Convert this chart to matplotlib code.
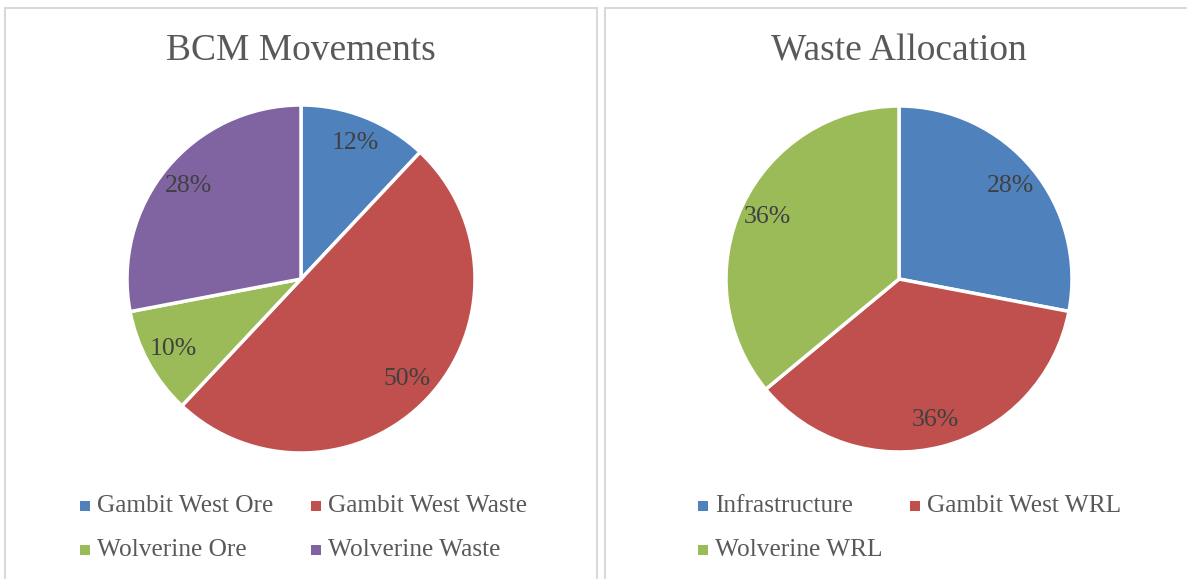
import matplotlib.pyplot as plt
from matplotlib.patches import Rectangle

# data
bcm_labels = ["Gambit West Ore", "Gambit West Waste", "Wolverine Ore", "Wolverine Waste"]
bcm_values = [12, 50, 10, 28]
waste_labels = ["Infrastructure", "Gambit West WRL", "Wolverine WRL"]
waste_values = [28, 36, 36]

blue, red, green, purple = "#4F81BD", "#C0504D", "#9BBB59", "#8064A2"
bcm_colors = [blue, red, green, purple]
waste_colors = [blue, red, green]

W, H = 1187, 579
plt.rcParams["font.family"] = ["Liberation Serif", "DejaVu Serif"]
fig = plt.figure(figsize=(W / 100, H / 100), dpi=100)

# panel borders
border = "#D9D9D9"
fig.add_artist(Rectangle((5 / W, -0.05), 592 / W, 1.05 - 8 / H, transform=fig.transFigure,
                         fill=False, edgecolor=border, linewidth=1.5))
fig.add_artist(Rectangle((605 / W, -0.05), 600 / W, 1.05 - 8 / H, transform=fig.transFigure,
                         fill=False, edgecolor=border, linewidth=1.5))


def draw_pie(cx, cy, r, values, colors, title, labels, legend_x, col2_x):
    ax = fig.add_axes([(cx - r) / W, 1 - (cy + r) / H, 2 * r / W, 2 * r / H])
    ax.pie(values, colors=colors, startangle=90, counterclock=False,
           autopct="%d%%", pctdistance=0.84,
           wedgeprops=dict(edgecolor="white", linewidth=2.5),
           textprops=dict(color="#404040", fontsize=18.5))
    ax.set_xlim(-1, 1)
    ax.set_ylim(-1, 1)
    ax.set_aspect("equal")
    ax.axis("off")
    fig.text(cx / W, 1 - 51 / H, title, ha="center", va="center",
             fontsize=27, color="#595959")
    # legend, two columns
    for i, (lab, col) in enumerate(zip(labels, colors)):
        x = legend_x if i % 2 == 0 else col2_x
        y = 506 if i < 2 else 550
        fig.add_artist(Rectangle(((x - 5) / W, 1 - (y + 5) / H), 10 / W, 10 / H,
                                 transform=fig.transFigure, facecolor=col, edgecolor="none"))
        fig.text((x + 12) / W, 1 - y / H, lab, ha="left", va="center",
                 fontsize=18.3, color="#595959")


draw_pie(301, 279, 174, bcm_values, bcm_colors, "BCM Movements", bcm_labels, 85, 316)
draw_pie(899, 279, 173, waste_values, waste_colors, "Waste Allocation", waste_labels, 703, 915)

fig.savefig("out.png", dpi=100, facecolor="white")
